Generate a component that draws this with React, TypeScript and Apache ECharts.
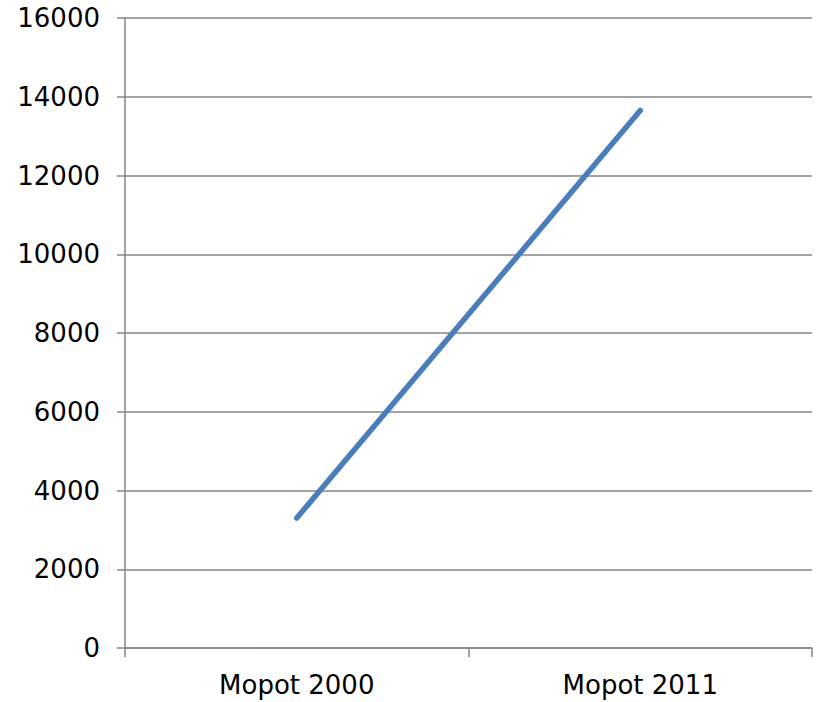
import React, { useEffect, useRef } from "react";
import * as echarts from "echarts";

const categories = ["Mopot 2000", "Mopot 2011"];
const values = [3300, 13650];
const yMin = 0;
const yMax = 16000;
const yInterval = 2000;

export default function App() {
  const ref = useRef<HTMLDivElement>(null);
  useEffect(() => {
    if (!ref.current) return;
    const chart = echarts.init(ref.current, null, { renderer: "svg" });
    const gray = "#868686";
    chart.setOption({
      animation: false,
      backgroundColor: "#ffffff",
      grid: { left: 125, right: 11, top: 18, bottom: 54, containLabel: false },
      xAxis: {
        type: "category",
        data: categories,
        boundaryGap: true,
        axisLine: { show: true, lineStyle: { color: gray, width: 1.5 } },
        axisTick: { show: true, length: 9, lineStyle: { color: gray, width: 1.5 } },
        axisLabel: { color: "#000", fontFamily: "DejaVu Sans", fontSize: 26, margin: 24 },
        splitLine: { show: false },
      },
      yAxis: {
        type: "value",
        min: yMin,
        max: yMax,
        interval: yInterval,
        axisLine: { show: true, lineStyle: { color: gray, width: 1.5 } },
        axisTick: { show: true, length: 8, lineStyle: { color: gray, width: 1.5 } },
        axisLabel: {
          color: "#000",
          fontFamily: "DejaVu Sans",
          fontSize: 26,
          margin: 25,
          formatter: (v: number) => String(v),
        },
        splitLine: { show: true, lineStyle: { color: gray, width: 1.5 } },
      },
      series: [
        {
          type: "line",
          data: values,
          symbol: "none",
          lineStyle: { color: "#4a7ebb", width: 5.5, cap: "round" },
        },
      ],
    });
    return () => chart.dispose();
  }, []);
  return (
    <div
      ref={ref}
      style={{ position: "fixed", left: 0, top: 0, width: 823, height: 702 }}
    />
  );
}
